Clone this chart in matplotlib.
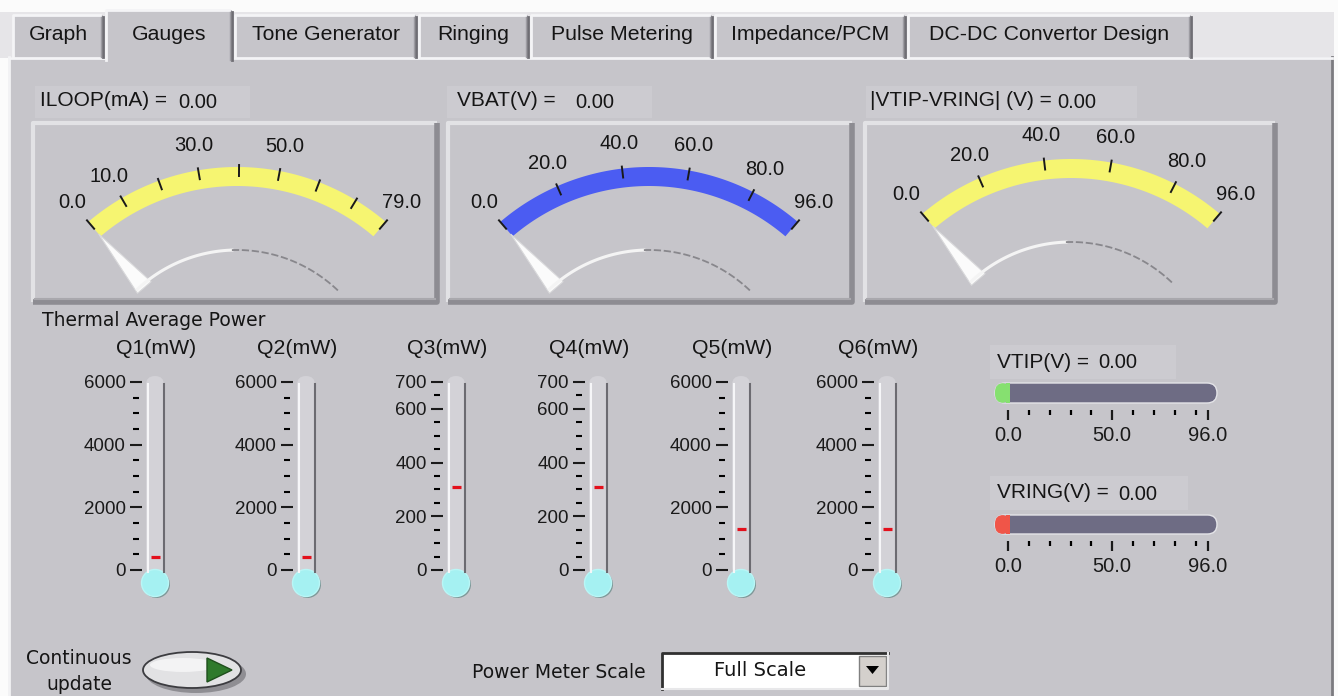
import matplotlib
matplotlib.use("Agg")
import matplotlib.pyplot as plt
import numpy as np
from matplotlib.patches import Rectangle, FancyBboxPatch, Circle, Polygon, Ellipse
from matplotlib.ticker import MultipleLocator, FixedLocator

plt.rcParams['font.family'] = ['Liberation Sans', 'DejaVu Sans']

# ---- values ----
tab_names = ["Graph", "Gauges", "Tone Generator", "Ringing", "Pulse Metering",
             "Impedance/PCM", "DC-DC Convertor Design"]
active_tab = "Gauges"

gauge_titles = ["ILOOP(mA) =", "VBAT(V) =", "|VTIP-VRING| (V) ="]
gauge_readings = [0.00, 0.00, 0.00]
gauge_max = [79.0, 96.0, 96.0]
gauge_ticks = [[0, 10, 20, 30, 40, 50, 60, 70, 79],
               [0, 20, 40, 60, 80, 96],
               [0, 20, 40, 60, 80, 96]]
gauge_labels = [[0, 10, 30, 50, 79],
                [0, 20, 40, 60, 80, 96],
                [0, 20, 40, 60, 80, 96]]

therm_names = ["Q1(mW)", "Q2(mW)", "Q3(mW)", "Q4(mW)", "Q5(mW)", "Q6(mW)"]
therm_max = [6000, 6000, 700, 700, 6000, 6000]
therm_major = [[0, 2000, 4000, 6000], [0, 2000, 4000, 6000],
               [0, 200, 400, 600, 700], [0, 200, 400, 600, 700],
               [0, 2000, 4000, 6000], [0, 2000, 4000, 6000]]
therm_minor_step = [500, 500, 50, 50, 500, 500]
therm_marker = [400, 400, 310, 310, 1300, 1300]

slide_titles = ["VTIP(V) =", "VRING(V) ="]
slide_readings = [0.00, 0.00]
slide_max = 96.0
slide_major = [0, 50, 96]
slide_minor = [10, 20, 30, 40, 60, 70, 80, 90]

scale_choice = "Full Scale"

# ---- layout (pixels, y down) ----
W, H = 1338, 696
BG = '#c6c5ca'
TXT = '#151515'
tab_edges = [12, 105, 234, 418, 530, 714, 907, 1193]
gauge_frames = [(33, 123, 437, 302), (448, 123, 852, 302), (865, 123, 1275, 302)]
gauge_centers = [(237, 396), (649, 396), (1071, 388)]
gauge_colors = ['#f6f571', '#4b5cf2', '#f6f571']
gauge_title_x = [40, 457, 870]
gauge_value_x = [178, 575, 1057]
gauge_title_box = [(35, 86, 250, 118), (447, 86, 652, 118), (866, 86, 1137, 118)]
R_OUT, BAND, A0, A1 = 229, 19, 130.5, 49.5
therm_cx = [155, 306, 456, 598, 741, 887]
therm_label_dx = [1, -9, -9, -9, -9, -9]
therm_top, therm_zero = 382, 570
slide_y = [(383, 403), (515, 534)]
slide_title_y = [362, 493]
slide_value_x = [1098, 1118]
slide_colors = ['#86e070', '#f05548']


def fig_rect(x0, y0, x1, y1):
    return [x0 / W, 1 - y1 / H, (x1 - x0) / W, (y1 - y0) / H]


fig = plt.figure(figsize=(W / 100, H / 100), dpi=100)
fig.patch.set_facecolor('#fbfbfb')
ax = fig.add_axes([0, 0, 1, 1])
ax.set_xlim(0, W)
ax.set_ylim(H, 0)
ax.axis('off')

# panel + tab strip
ax.add_patch(Rectangle((0, 12), 1334, 46, fc='#e6e5e8', ec='none'))
ax.add_patch(Rectangle((9, 57), 1323, H - 57, fc=BG, ec='none'))
ax.plot([9, 9], [57, H], color='#f2f2f4', lw=2)
ax.plot([1332, 1332], [57, H], color='#7c7b80', lw=2)
ax.plot([9, 1332], [58, 58], color='#f4f4f6', lw=2)

for i, name in enumerate(tab_names):
    x0, x1 = tab_edges[i] + 1, tab_edges[i + 1] - 2
    top = 10 if name == active_tab else 15
    bot = 60 if name == active_tab else 57
    ax.add_patch(Rectangle((x0, top), x1 - x0, bot - top, fc=BG, ec='none', zorder=2))
    ax.plot([x0, x0, x1 - 3], [bot, top, top], color='#f4f4f6', lw=2, zorder=3)
    ax.plot([x1, x1], [top + 2, bot], color='#6f6e74', lw=2, zorder=3)
    ax.plot([x1 - 2, x1 - 2], [top + 2, bot], color='#9d9ca2', lw=1, zorder=3)
    ax.text((x0 + x1) / 2, 35, name, ha='center', va='center', fontsize=15.3,
            color=TXT, zorder=4)


def pol(cx, cy, r, t):
    return cx + r * np.cos(t), cy - r * np.sin(t)


def bevel(x0, y0, x1, y1, light='#e2e2e5', dark='#8d8c92'):
    ax.add_patch(Rectangle((x0, y0), x1 - x0, y1 - y0, fc=BG, ec='none'))
    ax.plot([x0, x0, x1], [y1, y0, y0], color=light, lw=3, solid_capstyle='butt')
    ax.plot([x0, x1, x1], [y1, y1, y0], color=dark, lw=4, solid_capstyle='butt')
    ax.plot([x0 + 2, x1 - 2], [y1 - 3, y1 - 3], color='#a9a8ad', lw=1.5)


# ---- gauges ----
for g in range(3):
    cx, cy = gauge_centers[g]
    vmax = gauge_max[g]
    ang = lambda v: np.radians(A0 - (A0 - A1) * v / vmax)
    bx = gauge_title_box[g]
    ax.add_patch(Rectangle((bx[0], bx[1]), bx[2] - bx[0], bx[3] - bx[1], fc='#cccbd0', ec='none'))
    ax.text(gauge_title_x[g], 101, gauge_titles[g], ha='left', va='center',
            fontsize=15, color=TXT)
    ax.text(gauge_value_x[g], 103, f"{gauge_readings[g]:.2f}", ha='left', va='center',
            fontsize=14.5, color=TXT)
    bevel(*gauge_frames[g])

    t = np.linspace(ang(0), ang(vmax), 120)
    ox, oy = pol(cx, cy, R_OUT, t)
    ix, iy = pol(cx, cy, R_OUT - BAND, t[::-1])
    ax.add_patch(Polygon(np.column_stack([np.r_[ox, ix], np.r_[oy, iy]]),
                         fc=gauge_colors[g], ec='none'))
    for v in gauge_ticks[g]:
        tx, ty = pol(cx, cy, np.array([R_OUT + 2, R_OUT - 9]), ang(v))
        ax.plot(tx, ty, color='#1a1a1a', lw=1.4)
    for v in gauge_labels[g]:
        lx, ly = pol(cx, cy, R_OUT + 25, ang(v))
        ax.text(lx, ly, f"{v:.1f}", ha='center', va='center', fontsize=14.5, color=TXT)

    # hub groove
    th = np.radians(np.linspace(133, 92, 40))
    hx, hy = pol(cx, cy, 146, th)
    ax.plot(hx, hy, color='#f4f4f4', lw=2.2)
    th = np.radians(np.linspace(92, 46, 40))
    hx, hy = pol(cx, cy, 146, th)
    ax.plot(hx, hy, color='#88878c', lw=1.3, ls=(0, (4, 1.5)))

    # needle
    a = ang(gauge_readings[g])
    tip = pol(cx, cy, 213, a)
    b1 = pol(cx, cy, 143, a + np.radians(3.6))
    b2 = pol(cx, cy, 143, a - np.radians(3.6))
    ax.add_patch(Polygon([tip, b1, b2], fc='#fbfbfb', ec='#d8d8da', lw=0.8))

# ---- thermometers ----
ax.text(42, 320, "Thermal Average Power", family='DejaVu Sans', fontsize=13.5,
        ha='left', va='center', color=TXT)
for i in range(6):
    cx = therm_cx[i]
    x0, x1 = cx - 9, cx + 9
    ax.text(cx + therm_label_dx[i], 348, therm_names[i], ha='center', va='center',
            fontsize=15.3, color=TXT)
    ax.add_patch(FancyBboxPatch((x0, 376), 18, 200, boxstyle='round,pad=0,rounding_size=9',
                                fc='#d3d2d7', ec='none'))
    ax.plot([x0 + 1.5, x0 + 1.5], [384, 572], color='#f6f6f8', lw=1.5)
    ax.plot([x1 - 0.5, x1 - 0.5], [384, 572], color='#6c6b71', lw=1.5)
    ax.add_patch(Circle((cx + 1.5, 584.5), 13.5, fc='#7e9898', ec='none'))
    ax.add_patch(Circle((cx, 583), 13.5, fc='#a5f1f2', ec='#b9f6f6', lw=1))

    tax = fig.add_axes(fig_rect(x0, therm_top, x1, therm_zero))
    tax.set_xlim(0, 1)
    tax.set_ylim(0, therm_max[i])
    tax.patch.set_visible(False)
    for s in ['top', 'right', 'bottom', 'left']:
        tax.spines[s].set_visible(False)
    tax.spines['left'].set_position(('outward', 7.2))
    tax.set_xticks([])
    tax.yaxis.set_major_locator(FixedLocator(therm_major[i]))
    tax.yaxis.set_minor_locator(MultipleLocator(therm_minor_step[i]))
    tax.tick_params(axis='y', which='major', direction='inout', length=8.6, width=1.5,
                    pad=3.0, labelsize=13.5, colors='#1a1a1a')
    tax.tick_params(axis='y', which='minor', direction='inout', length=4.3, width=1.5)
    tax.hlines(therm_marker[i], 0.3, 0.75, color='#e3101c', lw=2.3)

# ---- slides ----
for k in range(2):
    y0, y1 = slide_y[k]
    ax.add_patch(Rectangle((990, slide_title_y[k] - 17), 186 + 12 * k, 34, fc='#cccbd0', ec='none'))
    ax.text(997, slide_title_y[k], slide_titles[k], ha='left', va='center',
            fontsize=15, color=TXT)
    ax.text(slide_value_x[k], slide_title_y[k] + 1, f"{slide_readings[k]:.2f}", ha='left',
            va='center', fontsize=14.5, color=TXT)
    ax.add_patch(FancyBboxPatch((995, y0), 222, y1 - y0,
                                boxstyle=f'round,pad=0,rounding_size={(y1 - y0) / 2}',
                                fc='#6e6c84', ec='#e4e4e8', lw=1))
    sax = fig.add_axes(fig_rect(1008, y0, 1208, y1))
    sax.set_xlim(0, slide_max)
    sax.set_ylim(0, 1)
    sax.patch.set_visible(False)
    for s in ['top', 'right', 'bottom', 'left']:
        sax.spines[s].set_visible(False)
    sax.spines['bottom'].set_position(('outward', 5))
    sax.set_yticks([])
    sax.xaxis.set_major_locator(FixedLocator(slide_major))
    sax.xaxis.set_minor_locator(FixedLocator(slide_minor))
    sax.xaxis.set_major_formatter(lambda v, p: f"{v:.1f}")
    sax.tick_params(axis='x', which='major', direction='out', length=7, width=1.6,
                    pad=4.5, labelsize=14.5, colors='#1a1a1a')
    sax.tick_params(axis='x', which='minor', direction='out', length=3.6, width=1.6)
    # fill up to the reading
    fx = ax.transData.inverted().transform(sax.transData.transform((slide_readings[k], 0)))[0]
    ax.add_patch(FancyBboxPatch((995, y0), fx - 995 + 2, y1 - y0,
                                boxstyle=f'round,pad=0,rounding_size={(y1 - y0) / 2 - 1}',
                                fc=slide_colors[k], ec='none'))
    ax.add_patch(Rectangle((fx - 2, y0), 4, y1 - y0, fc=slide_colors[k], ec='none'))

# ---- bottom controls ----
ax.text(79, 659, "Continuous", family='DejaVu Sans', fontsize=13.5, ha='center',
        va='center', color=TXT)
ax.text(79, 684, "update", family='DejaVu Sans', fontsize=13.5, ha='center',
        va='center', color=TXT)
ax.add_patch(Ellipse((196, 674), 100, 38, fc='#8f8e93', ec='none'))
ax.add_patch(Ellipse((192, 670), 98, 36, fc='#e2e2e4', ec='#3c3c40', lw=1.3))
ax.add_patch(Ellipse((183, 665), 66, 14, fc='#f3f3f4', ec='none'))
ax.add_patch(Polygon([(207, 658), (207, 682), (232, 670)], fc='#2f7a2c', ec='#1f4f1d', lw=1))

ax.text(472, 672, "Power Meter Scale", family='DejaVu Sans', fontsize=13.5, ha='left',
        va='center', color=TXT)
ax.add_patch(Rectangle((662, 653), 226, 36, fc='white', ec='none'))
ax.plot([662, 662, 888], [689, 653, 653], color='#303030', lw=2)
ax.plot([662, 888, 888], [689, 689, 653], color='#e8e8ea', lw=1.5)
ax.text(760, 670, scale_choice, family='DejaVu Sans', fontsize=14, ha='center',
        va='center', color=TXT)
ax.add_patch(Rectangle((859, 656), 27, 30, fc='#d4d0cc', ec='#808080', lw=1))
ax.add_patch(Polygon([(866, 666), (879, 666), (872.5, 674)], fc='black', ec='none'))

fig.savefig('out.png', dpi=100, facecolor=fig.get_facecolor())
